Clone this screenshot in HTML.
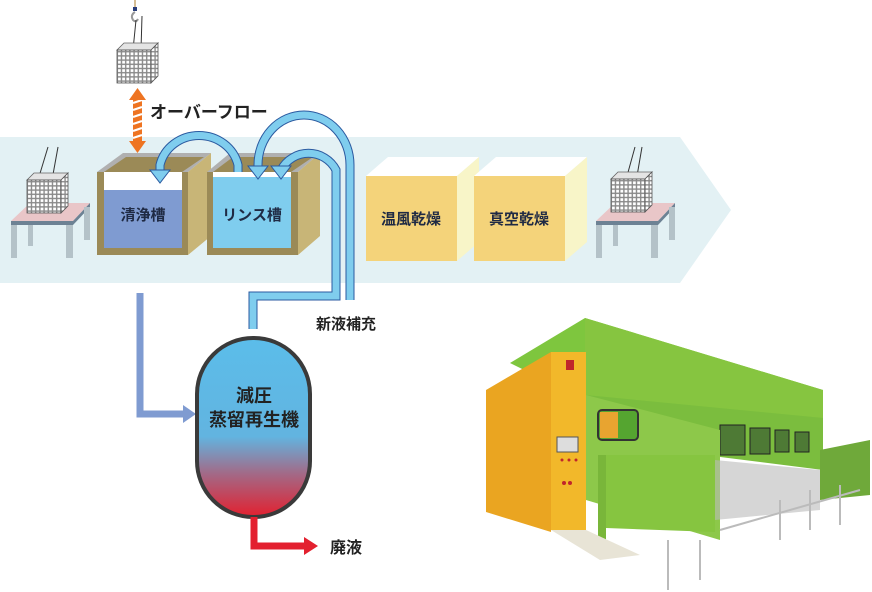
<!DOCTYPE html>
<html><head><meta charset="utf-8"><style>
html,body{margin:0;padding:0;background:#fff;}
svg{display:block}
text{font-family:"Liberation Sans","Noto Sans CJK JP",sans-serif;font-weight:bold;}
</style></head><body>
<svg width="872" height="592" viewBox="0 0 872 592" xmlns="http://www.w3.org/2000/svg">
<defs>
<pattern id="grid" width="4.2" height="4.2" patternUnits="userSpaceOnUse">
<rect width="4.2" height="4.2" fill="#8a8a8a"/><rect x="1" y="1" width="2.8" height="2.8" fill="#fff"/>
</pattern>
<linearGradient id="vg" x1="0" y1="0" x2="0" y2="1">
<stop offset="0" stop-color="#5bbdea"/><stop offset="0.55" stop-color="#62b4e0"/><stop offset="0.75" stop-color="#a06c8a"/><stop offset="1" stop-color="#e3202f"/>
</linearGradient>
<g id="basket">
<polygon points="0,7 34,7 41,0 7,0" fill="#e4e4e4" stroke="#666" stroke-width="0.8"/>
<rect x="0" y="7" width="34" height="33" fill="url(#grid)" stroke="#555" stroke-width="0.8"/>
<polygon points="34,7 41,0 41,33 34,40" fill="url(#grid)" stroke="#555" stroke-width="0.8"/>
</g>
<g id="table">
<polygon points="11,221 73,221 90,203 30,203" fill="#e9c6c8"/>
<rect x="11" y="221" width="62" height="4" fill="#6d8294"/>
<polygon points="73,221 90,203 90,207 73,225" fill="#6d8294"/>
<rect x="28" y="225" width="5" height="21" fill="#b4c2c8"/>
<rect x="84" y="207" width="6" height="33" fill="#b4c2c8"/>
<rect x="11" y="225" width="6" height="33" fill="#b4c2c8"/>
<rect x="66" y="225" width="7" height="33" fill="#b4c2c8"/>
</g>
</defs>

<polygon points="0,137 680,137 731,210 680,283 0,283" fill="#e3f1f4"/>

<use href="#table"/>
<line x1="38" y1="180" x2="48" y2="147" stroke="#333" stroke-width="1"/>
<line x1="52" y1="180" x2="58" y2="147" stroke="#333" stroke-width="1"/>
<use href="#basket" x="27" y="173"/>
<use href="#table" x="585"/>
<line x1="627" y1="176" x2="635" y2="147" stroke="#333" stroke-width="1"/>
<line x1="637" y1="176" x2="642" y2="147" stroke="#333" stroke-width="1"/>
<use href="#basket" x="611" y="172"/>

<line x1="135" y1="0" x2="135" y2="7" stroke="#c8a870" stroke-width="1.5"/>
<rect x="133" y="7" width="4" height="4" fill="#2a3e7a"/>
<path d="M135,12 q-5,3 -2,8 q3,3 5,-1" fill="none" stroke="#999" stroke-width="2"/>
<line x1="133" y1="50" x2="136" y2="20" stroke="#333" stroke-width="1"/>
<line x1="141" y1="50" x2="142" y2="16" stroke="#333" stroke-width="1"/>
<use href="#basket" x="117" y="43"/>

<rect x="133" y="97" width="9" height="46" fill="#ee7422"/>
<g stroke="#fff" stroke-width="2.2">
<line x1="133" y1="103" x2="142" y2="100"/><line x1="133" y1="110" x2="142" y2="107"/><line x1="133" y1="117" x2="142" y2="114"/><line x1="133" y1="124" x2="142" y2="121"/><line x1="133" y1="131" x2="142" y2="128"/><line x1="133" y1="138" x2="142" y2="135"/>
</g>
<polygon points="137.5,88 129,100 146,100" fill="#ee7422"/>
<polygon points="137.5,153 129,141 146,141" fill="#ee7422"/>
<text x="150" y="118" font-size="17" fill="#222">オーバーフロー</text>

<polygon points="97,172 123,153 211,153 188,172" fill="#b0b0b0"/>
<polygon points="104,172 126,157 204,157 182,172" fill="#9b8a57"/>
<polygon points="188,172 211,153 211,236 188,255" fill="#c8b577"/>
<rect x="97" y="172" width="91" height="83" fill="#9b8a57"/>
<rect x="104" y="172" width="78" height="76" fill="#fff"/>
<rect x="104" y="190" width="78" height="58" fill="#7f9bd1"/>
<text x="143" y="220" font-size="15" fill="#1f2a44" text-anchor="middle">清浄槽</text>
<polygon points="207,172 230,153 320,153 298,172" fill="#b0b0b0"/>
<polygon points="213,172 233,157 313,157 291,172" fill="#9b8a57"/>
<polygon points="298,172 320,153 320,236 298,255" fill="#c8b577"/>
<rect x="207" y="172" width="91" height="83" fill="#9b8a57"/>
<rect x="213" y="172" width="78" height="76" fill="#fff"/>
<rect x="213" y="177" width="78" height="71" fill="#7fcdee"/>
<text x="252" y="220" font-size="15" fill="#1f2a44" text-anchor="middle">リンス槽</text>

<polygon points="366,176 388,157 479,157 457,176" fill="#fff"/>
<polygon points="457,176 479,157 479,242 457,261" fill="#f8f5c8"/>
<rect x="366" y="176" width="91" height="85" fill="#f4d37a"/>
<text x="411" y="224" font-size="15" fill="#1f2a44" text-anchor="middle">温風乾燥</text>
<polygon points="474,176 496,157 587,157 565,176" fill="#fff"/>
<polygon points="565,176 587,157 587,242 565,261" fill="#f8f5c8"/>
<rect x="474" y="176" width="91" height="85" fill="#f4d37a"/>
<text x="519" y="224" font-size="15" fill="#1f2a44" text-anchor="middle">真空乾燥</text>

<g fill="none" stroke-linecap="butt">
<path d="M238,172 L238,165 A40,38 0 0 0 160,165 L160,172" stroke="#2b5aa0" stroke-width="9"/>
<path d="M238,172 L238,165 A40,38 0 0 0 160,165 L160,172" stroke="#7fcdee" stroke-width="7"/>
<path d="M253,329 L253,296 L336,296 L336,170 A31,31 0 0 0 281,170" stroke="#2b5aa0" stroke-width="9"/>
<path d="M253,329 L253,296 L336,296 L336,170 A31,31 0 0 0 281,170" stroke="#7fcdee" stroke-width="7"/>
<path d="M350,300 L350,165 A46,50 0 0 0 258,165 L258,170" stroke="#2b5aa0" stroke-width="9"/>
<path d="M350,300 L350,165 A46,50 0 0 0 258,165 L258,170" stroke="#7fcdee" stroke-width="7"/>
</g>
<polygon points="150,170 170,170 160,183" fill="#7fcdee" stroke="#2b5aa0" stroke-width="1"/>
<polygon points="248,166 268,166 258,179" fill="#7fcdee" stroke="#2b5aa0" stroke-width="1"/>
<polygon points="271,166 291,166 281,179" fill="#7fcdee" stroke="#2b5aa0" stroke-width="1"/>
<text x="316" y="329" font-size="15" fill="#222">新液補充</text>

<path d="M140,293 L140,414 L185,414" fill="none" stroke="#7f9bd1" stroke-width="7"/>
<polygon points="183,405 196,414 183,423" fill="#7f9bd1"/>

<rect x="197" y="338" width="113" height="179" rx="56" ry="56" fill="url(#vg)" stroke="#3a3a3a" stroke-width="4"/>
<text x="254" y="402" font-size="18" fill="#222" text-anchor="middle">減圧</text>
<text x="254" y="426" font-size="18" fill="#222" text-anchor="middle">蒸留再生機</text>

<path d="M254,517 L254,546 L306,546" fill="none" stroke="#e3202f" stroke-width="7"/>
<polygon points="304,537 318,546 304,555" fill="#e3202f"/>
<text x="330" y="553" font-size="16" fill="#222">廃液</text>

<!-- machine -->
<polygon points="510,363 585,318 823,390 823,420 585,400" fill="#7ec63e"/>
<polygon points="585,318 823,390 823,418 585,395" fill="#86c540"/>
<polygon points="585,395 823,418 823,470 585,440" fill="#7bbd3e"/>
<g fill="#4e7a35" stroke="#222" stroke-width="1">
<rect x="720" y="425" width="25" height="30"/><rect x="750" y="428" width="20" height="26"/><rect x="775" y="430" width="14" height="22"/><rect x="795" y="432" width="14" height="20"/>
</g>
<polygon points="486,390 551,352 551,532 486,512" fill="#eaa521"/>
<rect x="551" y="352" width="35" height="178" fill="#f2b82a"/>
<rect x="557" y="437" width="21" height="15" fill="#ddd" stroke="#555"/>
<g fill="#c0262b"><circle cx="562" cy="460" r="1.5"/><circle cx="569" cy="460" r="1.5"/><circle cx="576" cy="460" r="1.5"/><circle cx="564" cy="483" r="2"/><circle cx="570" cy="483" r="2"/></g>
<rect x="566" y="360" width="8" height="10" fill="#c0262b"/>
<polygon points="586,395 720,430 720,540 586,500" fill="#8dc84a"/>
<rect x="598" y="410" width="40" height="30" rx="4" fill="#55a530" stroke="#333" stroke-width="2"/>
<rect x="600" y="412" width="18" height="26" fill="#e8a430"/>
<polygon points="606,455 715,455 715,532 606,528" fill="#86c540"/>
<polygon points="598,455 606,455 606,540 598,540" fill="#79b63a"/>
<polygon points="715,460 820,470 820,510 715,520" fill="#bbb" opacity="0.6"/>
<polygon points="820,450 870,440 870,495 820,500" fill="#6fa93a"/>
<g stroke="#bbb" stroke-width="2">
<line x1="700" y1="540" x2="700" y2="580"/><line x1="668" y1="540" x2="668" y2="590"/><line x1="780" y1="500" x2="780" y2="540"/><line x1="810" y1="490" x2="810" y2="530"/><line x1="840" y1="485" x2="840" y2="525"/>
<line x1="720" y1="530" x2="860" y2="490"/>
</g>
<polygon points="551,530 586,530 640,555 600,560" fill="#e8e4d6"/>
</svg>
</body></html>
